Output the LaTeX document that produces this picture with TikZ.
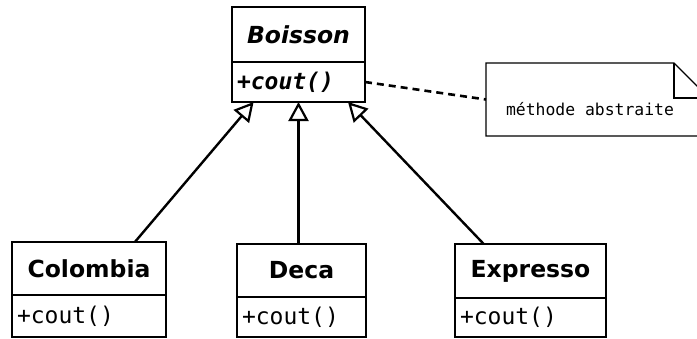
\documentclass[tikz,border=0pt]{standalone}
\usepackage{fontspec}
\usepackage{tikz}
\usetikzlibrary{arrows.meta,positioning}
\newfontfamily\umlsans{DejaVu Sans}
\newfontfamily\umlmono{DejaVu Sans Mono}
\begin{document}
\begin{tikzpicture}[
    x=1pt, y=-1pt,
    classname/.style={rectangle, draw, line width=2.2pt, inner sep=0pt, outer sep=0pt, font=\umlsans\bfseries\fontsize{23.5}{28}\selectfont},
    classop/.style={rectangle, draw, line width=2.2pt, inner xsep=5pt, inner ysep=0pt, outer sep=0pt, align=left, font=\umlmono\fontsize{23}{28}\selectfont},
    inherit/.style={-{Triangle[open, length=19pt, width=20pt, line width=2.2pt]}, line width=2.4pt},
    notebox/.style={rectangle, minimum width=223pt, minimum height=73pt, inner sep=0pt, outer sep=0pt},
    noteline/.style={line width=1.2pt},
    notelink/.style={line width=2.6pt, dash pattern=on 7pt off 5pt}
]
\clip (0,0) rectangle (697,338);

% Abstract class
\node[classname, minimum width=133pt, minimum height=55pt, font=\umlsans\bfseries\itshape\fontsize{23.5}{28}\selectfont] (boisson) at (298.5,34.5) {Boisson};
\node[classop, minimum width=133pt, minimum height=40pt, text width=123pt, font=\umlmono\bfseries\itshape\fontsize{23}{28}\selectfont, below=0pt of boisson] (boissonop) {+cout()};

% Concrete classes
\node[classname, minimum width=154pt, minimum height=53pt] (colombia) at (89,268.5) {Colombia};
\node[classop, minimum width=154pt, minimum height=42pt, text width=144pt, below=0pt of colombia] (colombiaop) {+cout()};

\node[classname, minimum width=129pt, minimum height=53pt] (deca) at (301.5,270.5) {Deca};
\node[classop, minimum width=129pt, minimum height=40pt, text width=119pt, below=0pt of deca] (decaop) {+cout()};

\node[classname, minimum width=151pt, minimum height=54pt] (expresso) at (530.5,271) {Expresso};
\node[classop, minimum width=151pt, minimum height=39pt, text width=141pt, below=0pt of expresso] (expressoop) {+cout()};

% Note
\node[notebox] (note) at (597.5,99.5) {};
\node[font=\umlmono\fontsize{16.4}{20}\selectfont] (notelabel) at (590,109) {méthode abstraite};
\draw[noteline] (note.south west) -- (note.north west) -- ([xshift=-35pt]note.north east) -- ([yshift=-35pt]note.north east) -- (note.south east) -- cycle;
\draw[noteline] ([xshift=-35pt]note.north east) -- ([xshift=-35pt,yshift=-35pt]note.north east) -- ([yshift=-35pt]note.north east);

% Inheritance
\draw[inherit] (colombia.30) -- (boissonop.204);
\draw[inherit] (deca.north -| boissonop.south) -- (boissonop.south);
\draw[inherit] (expresso.150) -- (boissonop.338);

% Note link
\draw[notelink] (boissonop.east) -- (note.west);
\end{tikzpicture}
\end{document}
